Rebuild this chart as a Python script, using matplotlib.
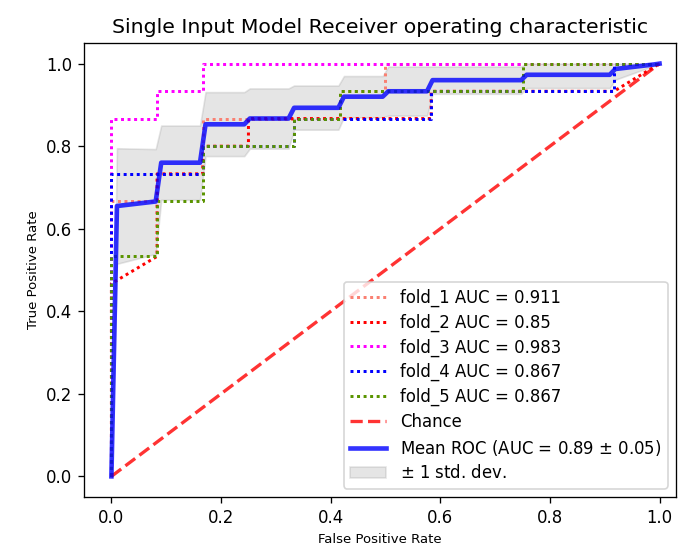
import numpy as np
import matplotlib
matplotlib.use('Agg')
import matplotlib.pyplot as plt

# fold ROC curves (step vertices)
fold_names = ['fold_1', 'fold_2', 'fold_3', 'fold_4', 'fold_5']
fold_aucs = [0.911, 0.85, 0.983, 0.867, 0.867]
fold_colors = ['salmon', 'red', 'magenta', 'blue', '#5a9400']

fpr_1 = [0, 0, 0.0833, 0.0833, 0.1667, 0.1667, 0.4167, 0.4167, 0.5, 0.5, 1]
tpr_1 = [0, 0.667, 0.667, 0.733, 0.733, 0.867, 0.867, 0.933, 0.933, 1, 1]
fpr_2 = [0, 0, 0.0833, 0.0833, 0.1667, 0.1667, 0.25, 0.25, 0.5833, 0.5833, 0.9167, 1]
tpr_2 = [0, 0.467, 0.533, 0.733, 0.733, 0.8, 0.8, 0.867, 0.867, 0.933, 0.933, 1]
fpr_3 = [0, 0, 0.0833, 0.0833, 0.1667, 0.1667, 1]
tpr_3 = [0, 0.867, 0.867, 0.933, 0.933, 1, 1]
fpr_4 = [0, 0, 0.1667, 0.1667, 0.3333, 0.3333, 0.5833, 0.5833, 0.9167, 0.9167, 1]
tpr_4 = [0, 0.733, 0.733, 0.8, 0.8, 0.867, 0.867, 0.933, 0.933, 1, 1]
fpr_5 = [0, 0, 0.0833, 0.0833, 0.1667, 0.1667, 0.3333, 0.3333, 0.4167, 0.4167, 0.75, 0.75, 1]
tpr_5 = [0, 0.533, 0.533, 0.667, 0.667, 0.8, 0.8, 0.867, 0.867, 0.933, 0.933, 1, 1]
fold_fprs = [fpr_1, fpr_2, fpr_3, fpr_4, fpr_5]
fold_tprs = [tpr_1, tpr_2, tpr_3, tpr_4, tpr_5]

# mean ROC and +/- 1 std band
mean_fpr = [0, 0.0101, 0.0808, 0.0909, 0.1616, 0.1717, 0.2424, 0.2525, 0.3232, 0.3333,
            0.4141, 0.4242, 0.4949, 0.5051, 0.5758, 0.5859, 0.7475, 0.7576, 0.9091,
            0.9192, 0.9899, 1.0]
mean_tpr = [0, 0.655, 0.666, 0.76, 0.76, 0.853, 0.853, 0.867, 0.867, 0.893, 0.893,
            0.92, 0.92, 0.933, 0.933, 0.96, 0.96, 0.973, 0.973, 0.987, 0.998, 1.0]
tpr_upper = [0, 0.795, 0.793, 0.85, 0.85, 0.931, 0.931, 0.94, 0.94, 0.947, 0.947,
             0.97, 0.97, 0.993, 0.993, 0.993, 0.993, 1.0, 1.0, 1.0, 1.0, 1.0]
tpr_lower = [0, 0.515, 0.539, 0.67, 0.67, 0.776, 0.776, 0.794, 0.794, 0.84, 0.84,
             0.87, 0.87, 0.874, 0.874, 0.927, 0.927, 0.941, 0.941, 0.961, 0.995, 1.0]
mean_auc = 0.89
std_auc = 0.05

fig = plt.figure(figsize=(681 / 119, 547 / 119), dpi=119)
ax = fig.add_axes([84 / 681, 1 - 497 / 547, (676 - 84) / 681, (497 - 43) / 547])

for name, auc, c, f, t in zip(fold_names, fold_aucs, fold_colors, fold_fprs, fold_tprs):
    ax.plot(f, t, linestyle=(0, (1, 1.2)), lw=1.8, color=c, label=name + ' AUC = ' + str(auc))

ax.plot([0, 1], [0, 1], linestyle='--', lw=2, color='r', label='Chance', alpha=.8)

ax.plot(mean_fpr, mean_tpr, color='b',
        label=r'Mean ROC (AUC = %0.2f $\pm$ %0.2f)' % (mean_auc, std_auc), lw=2.8, alpha=.8)
ax.fill_between(mean_fpr, tpr_lower, tpr_upper, color='grey', alpha=.2,
                label=r'$\pm$ 1 std. dev.')

ax.set_xlim([-0.05, 1.03])
ax.set_ylim([-0.05, 1.05])
ax.set_xlabel('False Positive Rate', fontsize=8)
ax.set_ylabel('True Positive Rate', fontsize=8)
ax.set_title('Single Input Model Receiver operating characteristic', fontsize=12.3)
ax.legend(loc='lower right', labelspacing=0.4, handlelength=2.2)

fig.savefig('out.png', dpi=119)
